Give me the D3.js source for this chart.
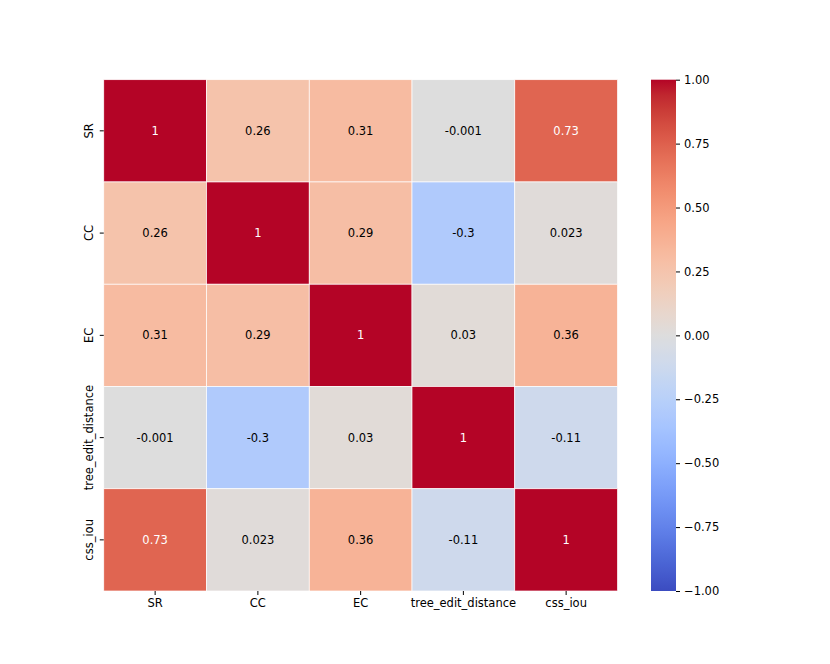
<!DOCTYPE html>
<html><head><meta charset="utf-8">
<script src="https://cdn.jsdelivr.net/npm/d3@7"></script>
<style>body{margin:0;background:#fff}svg{display:block}text{font-family:"DejaVu Sans",sans-serif}</style>
</head><body>
<script>
const labels = ["SR","CC","EC","tree_edit_distance","css_iou"];
const row_SR  = [1, 0.26, 0.31, -0.001, 0.73];
const row_CC  = [0.26, 1, 0.29, -0.3, 0.023];
const row_EC  = [0.31, 0.29, 1, 0.03, 0.36];
const row_TED = [-0.001, -0.3, 0.03, 1, -0.11];
const row_CSS = [0.73, 0.023, 0.36, -0.11, 1];
const annot_SR  = ["1","0.26","0.31","-0.001","0.73"];
const annot_CC  = ["0.26","1","0.29","-0.3","0.023"];
const annot_EC  = ["0.31","0.29","1","0.03","0.36"];
const annot_TED = ["-0.001","-0.3","0.03","1","-0.11"];
const annot_CSS = ["0.73","0.023","0.36","-0.11","1"];
const cbarTicks = [1, 0.75, 0.5, 0.25, 0, -0.25, -0.5, -0.75, -1];

const rows = [row_SR,row_CC,row_EC,row_TED,row_CSS];
const annots = [annot_SR,annot_CC,annot_EC,annot_TED,annot_CSS];

// matplotlib coolwarm (Moreland) anchors
const cw = [[59,76,192],[68,90,204],[77,104,215],[87,117,225],[98,130,234],[108,142,241],[119,154,247],[130,165,251],[141,176,254],[152,185,255],[163,194,255],[174,201,253],[184,208,249],[194,213,244],[204,217,238],[213,219,230],[221,221,221],[229,216,209],[236,211,197],[241,204,184],[245,196,173],[247,187,160],[247,177,148],[247,166,135],[244,154,123],[241,141,111],[236,127,99],[229,112,88],[222,96,77],[213,80,66],[203,62,56],[192,40,47],[180,4,38]];
const interp = d3.piecewise(d3.interpolateRgb, cw.map(c=>`rgb(${c[0]},${c[1]},${c[2]})`));
const color = d3.scaleSequential(interp).domain([-1,1]);

const W=830,H=664;
const svg = d3.select("body").append("svg").attr("width",W).attr("height",H);
const L=103.75, R=617.5, T=79.7, B=591;
const x = d3.scaleBand().domain(labels).range([L,R]);
const y = d3.scaleBand().domain(labels).range([T,B]);

function lum(c){
  const r=d3.rgb(c);
  const f=v=>{v/=255;return v<=0.03928?v/12.92:Math.pow((v+0.055)/1.055,2.4);};
  return 0.2126*f(r.r)+0.7152*f(r.g)+0.0722*f(r.b);
}

const cells=[];
rows.forEach((r,i)=>r.forEach((v,j)=>cells.push({i,j,v,a:annots[i][j]})));
const g=svg.append("g");
g.selectAll("rect").data(cells).enter().append("rect")
 .attr("x",d=>x(labels[d.j])).attr("y",d=>y(labels[d.i]))
 .attr("width",x.bandwidth()).attr("height",y.bandwidth())
 .attr("fill",d=>color(d.v)).attr("stroke","#fff").attr("stroke-width",0.7);
g.selectAll("text").data(cells).enter().append("text")
 .attr("x",d=>x(labels[d.j])+x.bandwidth()/2).attr("y",d=>y(labels[d.i])+y.bandwidth()/2)
 .attr("text-anchor","middle").attr("dominant-baseline","central")
 .attr("font-size","11.5px")
 .attr("fill",d=>lum(color(d.v))<0.408?"#fff":"#000")
 .text(d=>d.a);

// axes
const xa=svg.append("g").attr("transform",`translate(0,${B})`)
 .call(d3.axisBottom(x).tickSize(4).tickPadding(4));
xa.select(".domain").remove();
xa.selectAll("text").attr("font-size","11.5px").attr("fill","#000").style("font-family","DejaVu Sans");
const ya=svg.append("g").attr("transform",`translate(${L},0)`)
 .call(d3.axisLeft(y).tickSize(4).tickPadding(4));
ya.select(".domain").remove();
ya.selectAll("text").attr("font-size","11.5px").attr("fill","#000").style("font-family","DejaVu Sans")
 .attr("text-anchor","middle").attr("dy",null).attr("dominant-baseline","auto")
 .attr("transform",function(){return `translate(-10.5,0) rotate(-90)`;}).attr("x",0).attr("y",0);

// colorbar
const cbL=651,cbR=676;
const cy=d3.scaleLinear().domain([-1,1]).range([B,T]);
const defs=svg.append("defs");
const grad=defs.append("linearGradient").attr("id","cb").attr("x1",0).attr("y1",1).attr("x2",0).attr("y2",0);
d3.range(0,101).forEach(k=>grad.append("stop").attr("offset",(k/100))
 .attr("stop-color",color(-1+2*k/100)));
svg.append("rect").attr("x",cbL).attr("y",T).attr("width",cbR-cbL).attr("height",B-T).attr("fill","url(#cb)");
const ca=svg.append("g").attr("transform",`translate(${cbR},0)`)
 .call(d3.axisRight(cy).tickValues(cbarTicks).tickSize(4).tickPadding(4)
 .tickFormat(v=>d3.format(".2f")(v).replace("-","\u2212")));
ca.select(".domain").remove();
ca.selectAll("text").attr("font-size","11.5px").attr("fill","#000").style("font-family","DejaVu Sans");
</script>
</body></html>
